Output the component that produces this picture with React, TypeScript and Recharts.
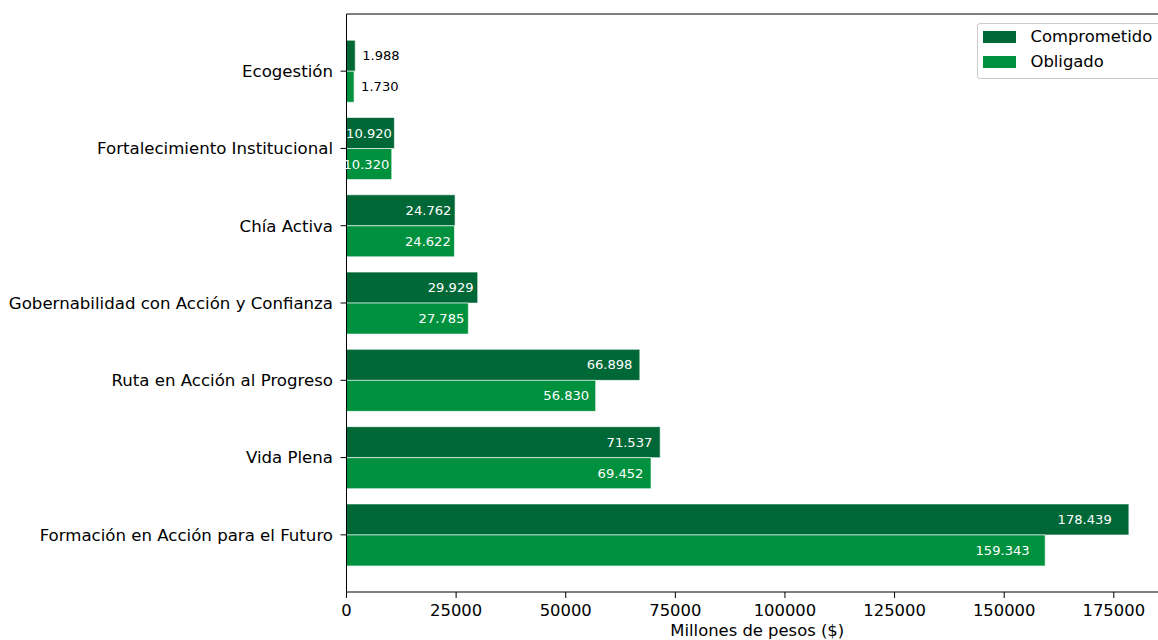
import React from 'react';
import { BarChart, Bar, XAxis, YAxis, Legend, LabelList } from 'recharts';

const categories = [
  'Ecogestión',
  'Fortalecimiento Institucional',
  'Chía Activa',
  'Gobernabilidad con Acción y Confianza',
  'Ruta en Acción al Progreso',
  'Vida Plena',
  'Formación en Acción para el Futuro',
];
const comprometido = [1988, 10920, 24762, 29929, 66898, 71537, 178439];
const obligado = [1730, 10320, 24622, 27785, 56830, 69452, 159343];
const xTicks = [0, 25000, 50000, 75000, 100000, 125000, 150000, 175000];

const data = categories.map((name, i) => ({
  name,
  comprometido: comprometido[i],
  obligado: obligado[i],
}));

const FONT = '"DejaVu Sans", sans-serif';
const DARK = '#006837';
const LIGHT = '#00913f';
const FS = 16.4;
const FS_LABEL = 13.1;

const fmt = (v: number) => String(v).replace(/\B(?=(\d{3})+(?!\d))/g, '.');

const BarLabel = (props: any) => {
  const vb = props.viewBox || {};
  const x = props.x ?? vb.x;
  const y = props.y ?? vb.y;
  const width = props.width ?? vb.width;
  const height = props.height ?? vb.height;
  const value = Number(props.value);
  const cy = y + height / 2;
  if (value < 5000) {
    return (
      <text x={x + width + 7} y={cy} fontSize={FS_LABEL} fontFamily={FONT} fill="#000"
        dominantBaseline="central" textAnchor="start">{fmt(value)}</text>
    );
  }
  return (
    <text x={x + width * 0.98 - 1.5} y={cy} fontSize={FS_LABEL} fontFamily={FONT} fill="#fff"
      dominantBaseline="central" textAnchor="end">{fmt(value)}</text>
  );
};

const renderLegend = (props: any) => {
  const payload = props.payload || [];
  return (
    <div style={{
      position: 'relative', width: 184, height: 56, boxSizing: 'border-box',
      border: '1px solid #cccccc', borderRadius: 3, background: 'rgba(255,255,255,0.8)',
      fontFamily: FONT, fontSize: FS, color: '#000',
    }}>
      {payload.map((p: any, i: number) => (
        <div key={i} style={{ position: 'absolute', left: 0, top: 13.5 + i * 24.7 - 11, height: 22, width: 184 }}>
          <div style={{ position: 'absolute', left: 5, top: 5, width: 33, height: 12, background: p.color }} />
          <div style={{ position: 'absolute', left: 52.5, top: 0, lineHeight: '22px', whiteSpace: 'nowrap' }}>{p.value}</div>
        </div>
      ))}
    </div>
  );
};

export default function App() {
  const maxVal = Math.max(...comprometido, ...obligado);
  const xMax = maxVal * 1.05;
  return (
    <div style={{ position: 'absolute', left: 0, top: 0, width: 1158, height: 640, overflow: 'hidden', background: '#fff' }}>
      <BarChart
        width={1180}
        height={640}
        data={data}
        layout="vertical"
        margin={{ top: 13, right: 12, left: 0, bottom: 0 }}
        barCategoryGap="10%"
        barGap={0}
      >
        <XAxis
          type="number"
          domain={[0, xMax]}
          ticks={xTicks}
          allowDataOverflow
          height={48}
          tickSize={6}
          tickMargin={6.5}
          tick={{ fontSize: FS, fontFamily: FONT, fill: '#000' }}
          tickLine={{ stroke: '#000' }}
          axisLine={{ stroke: '#000' }}
          label={{ value: 'Millones de pesos ($)', position: 'insideBottom', offset: 4, fontSize: FS, fontFamily: FONT, fill: '#000' }}
        />
        <XAxis
          xAxisId="top"
          orientation="top"
          type="number"
          domain={[0, xMax]}
          height={1}
          tick={false}
          tickLine={false}
          axisLine={{ stroke: '#000' }}
        />
        <YAxis
          type="category"
          dataKey="name"
          width={346.5}
          padding={{ top: 18.5, bottom: 18.5 }}
          tickSize={6}
          tickMargin={7.5}
          interval={0}
          tick={{ fontSize: 16.6, fontFamily: FONT, fill: '#000' }}
          tickLine={{ stroke: '#000' }}
          axisLine={{ stroke: '#000' }}
        />
        <Legend layout="vertical" align="center" verticalAlign="middle" content={renderLegend}
          wrapperStyle={{ position: 'absolute', left: 977, top: 22.5, width: 184, height: 56 }} />
        <Bar dataKey="comprometido" name="Comprometido" fill={DARK} stroke="#ffffff" strokeWidth={0.6} isAnimationActive={false}>
          <LabelList dataKey="comprometido" content={BarLabel} />
        </Bar>
        <Bar dataKey="obligado" name="Obligado" fill={LIGHT} stroke="#ffffff" strokeWidth={0.6} isAnimationActive={false}>
          <LabelList dataKey="obligado" content={BarLabel} />
        </Bar>
      </BarChart>
    </div>
  );
}
